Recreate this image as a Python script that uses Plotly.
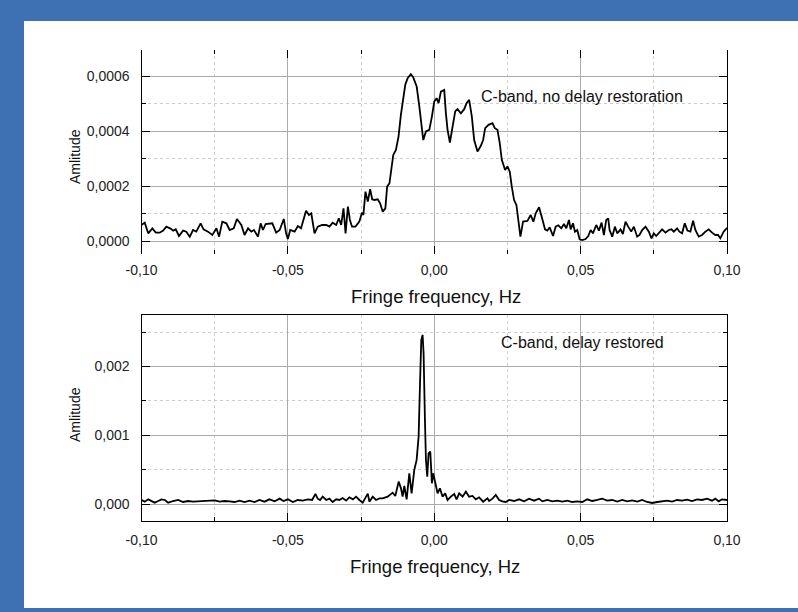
import plotly.graph_objects as go

# ---------------- data ----------------
# Top panel: C-band, no delay restoration
freq_top = [
    -0.1000, -0.0989, -0.0977, -0.0963, -0.0951, -0.0938, -0.0926, -0.0915, -0.0901, -0.0892,
    -0.0883, -0.0872, -0.0858, -0.0847, -0.0835, -0.0824, -0.0813, -0.0798, -0.0788, -0.0773,
    -0.0758, -0.0744, -0.0735, -0.0724, -0.0710, -0.0699, -0.0685, -0.0674, -0.0659, -0.0648,
    -0.0636, -0.0625, -0.0616, -0.0602, -0.0593, -0.0585, -0.0576, -0.0565, -0.0553, -0.0540,
    -0.0528, -0.0514, -0.0506, -0.0500, -0.0492, -0.0477, -0.0466, -0.0455, -0.0447, -0.0438,
    -0.0428, -0.0420, -0.0409, -0.0398, -0.0383, -0.0369, -0.0358, -0.0347, -0.0335, -0.0326,
    -0.0318, -0.0310, -0.0303, -0.0295, -0.0288, -0.0281, -0.0269, -0.0256, -0.0247, -0.0242,
    -0.0235, -0.0227, -0.0219, -0.0212, -0.0205, -0.0193, -0.0185, -0.0176, -0.0167, -0.0161,
    -0.0153, -0.0148, -0.0140, -0.0131, -0.0122, -0.0114, -0.0106, -0.0099, -0.0091, -0.0080,
    -0.0072, -0.0060, -0.0051, -0.00455, -0.00375, -0.00284, -0.00170, -0.00080, 0.00000, 0.00080,
    0.00148, 0.00227, 0.00341, 0.00398, 0.00455, 0.00534, 0.00625, 0.00716, 0.00795, 0.00909,
    0.01023, 0.01102, 0.01193, 0.01284, 0.01364, 0.01477, 0.01591, 0.01670, 0.01739, 0.01852,
    0.01989, 0.02068, 0.02159, 0.02239, 0.02307, 0.02420, 0.02500, 0.02580, 0.02648, 0.02727,
    0.02807, 0.02875, 0.02943, 0.03034, 0.03182, 0.03295, 0.03386, 0.03466, 0.03580, 0.03670,
    0.03784, 0.03864, 0.03943, 0.04057, 0.04148, 0.04239, 0.04341, 0.04432, 0.04511, 0.04602,
    0.04659, 0.04739, 0.04807, 0.04886, 0.04966, 0.05057, 0.05170, 0.05261, 0.05341, 0.05420,
    0.05534, 0.05625, 0.05716, 0.05795, 0.05875, 0.05943, 0.05989, 0.06080, 0.06170, 0.06250,
    0.06364, 0.06443, 0.06534, 0.06625, 0.06727, 0.06818, 0.06932, 0.07011, 0.07102, 0.07216,
    0.07330, 0.07420, 0.07500, 0.07580, 0.07670, 0.07784, 0.07898, 0.08011, 0.08102, 0.08182,
    0.08295, 0.08375, 0.08466, 0.08557, 0.08648, 0.08750, 0.08841, 0.08920, 0.09034, 0.09148,
    0.09261, 0.09375, 0.09489, 0.09602, 0.09693, 0.09773, 0.09886, 0.10000,
]
amp_top = [
    0.0000594, 0.0000679, 0.0000291, 0.0000473, 0.0000315, 0.0000315, 0.0000388, 0.0000533, 0.0000461, 0.0000388,
    0.0000436, 0.0000194, 0.0000388, 0.0000352, 0.0000170, 0.0000412, 0.0000352, 0.0000655, 0.0000436, 0.0000352,
    0.0000230, 0.0000473, 0.0000170, 0.0000715, 0.0000655, 0.0000412, 0.0000473, 0.0000812, 0.0000594, 0.0000230,
    0.0000473, 0.0000352, 0.0000412, 0.0000170, 0.0000655, 0.0000412, 0.0000630, 0.0000630, 0.0000655, 0.0000315,
    0.0000412, 0.0000812, 0.0000291, 0.0000085, 0.0000412, 0.0000352, 0.0000558, 0.0000473, 0.0000776, 0.0001115,
    0.0000958, 0.0001018, 0.0000291, 0.0000533, 0.0000594, 0.0000594, 0.0000533, 0.0000679, 0.0000594, 0.0000836,
    0.0000594, 0.0001200, 0.0000291, 0.0001261, 0.0000776, 0.0000533, 0.0000533, 0.0000715, 0.0001042, 0.0000958,
    0.0001806, 0.0001442, 0.0001891, 0.0001527, 0.0001503, 0.0001527, 0.0001382, 0.0001079, 0.0001200, 0.0001988,
    0.0002109, 0.0002473, 0.0003139, 0.0003321, 0.0003806, 0.0004594, 0.0005139, 0.0005685, 0.0005927, 0.0006073,
    0.0005964, 0.0005624, 0.0004900, 0.0004290, 0.0003680, 0.0003990, 0.0004050, 0.0004530, 0.0005080, 0.0005200,
    0.0005020, 0.0005440, 0.0005500, 0.0004650, 0.0004050, 0.0003590, 0.0004170, 0.0004720, 0.0004800, 0.0004650,
    0.0004800, 0.0005020, 0.0005140, 0.0004530, 0.0003680, 0.0003260, 0.0003470, 0.0003680, 0.0004110, 0.0004230,
    0.0004290, 0.0004110, 0.0004050, 0.0003560, 0.0002960, 0.0002590, 0.0002720, 0.0002530, 0.0001990, 0.0001500,
    0.0001320, 0.0000776, 0.0000170, 0.0000715, 0.0000739, 0.0000958, 0.0000715, 0.0001018, 0.0001236, 0.0000897,
    0.0000436, 0.0000388, 0.0000509, 0.0000194, 0.0000533, 0.0000582, 0.0000473, 0.0000630, 0.0000473, 0.0000776,
    0.0000436, 0.0000655, 0.0000352, 0.0000412, 0.0000073, 0.0000048, 0.0000085, 0.0000194, 0.0000412, 0.0000291,
    0.0000594, 0.0000388, 0.0000679, 0.0000230, 0.0000776, 0.0000836, 0.0000412, 0.0000170, 0.0000533, 0.0000291,
    0.0000436, 0.0000267, 0.0000715, 0.0000533, 0.0000352, 0.0000533, 0.0000170, 0.0000230, 0.0000412, 0.0000533,
    0.0000352, 0.0000109, 0.0000291, 0.0000194, 0.0000315, 0.0000436, 0.0000315, 0.0000412, 0.0000436, 0.0000352,
    0.0000473, 0.0000352, 0.0000291, 0.0000655, 0.0000388, 0.0000352, 0.0000752, 0.0000412, 0.0000170, 0.0000230,
    0.0000352, 0.0000436, 0.0000315, 0.0000230, 0.0000230, 0.0000109, 0.0000352, 0.0000485,
]

# Bottom panel: C-band, delay restored
freq_bot = [
    -0.1000, -0.0989, -0.0977, -0.0966, -0.0955, -0.0943, -0.0932, -0.0920, -0.0909, -0.0892,
    -0.0875, -0.0858, -0.0841, -0.0824, -0.0807, -0.0790, -0.0767, -0.0750, -0.0733, -0.0716,
    -0.0699, -0.0682, -0.0665, -0.0648, -0.0631, -0.0614, -0.0597, -0.0580, -0.0563, -0.0545,
    -0.0528, -0.0515, -0.0500, -0.0483, -0.0466, -0.0449, -0.0432, -0.0417, -0.0406, -0.0398,
    -0.0390, -0.0381, -0.0369, -0.0358, -0.0347, -0.0335, -0.0324, -0.0313, -0.0301, -0.0290,
    -0.0278, -0.0267, -0.02557, -0.02443, -0.02330, -0.02270, -0.02216, -0.02102, -0.01989, -0.01875,
    -0.01761, -0.01591, -0.01420, -0.01330, -0.01216, -0.01136, -0.01080, -0.01023, -0.00943, -0.00852,
    -0.00773, -0.00682, -0.00602, -0.00534, -0.00489, -0.00443, -0.00398, -0.00364, -0.00318, -0.00284,
    -0.00239, -0.00193, -0.00136, -0.00080, -0.00034, 0.00034, 0.00114, 0.00193, 0.00284, 0.00375,
    0.00455, 0.00568, 0.00682, 0.00761, 0.00852, 0.00966, 0.01080, 0.01193, 0.01307, 0.01420,
    0.01534, 0.01670, 0.01818, 0.01875, 0.01989, 0.02102, 0.02216, 0.02330, 0.02443, 0.02557,
    0.02727, 0.02898, 0.03068, 0.03239, 0.03409, 0.03580, 0.03693, 0.03864, 0.04034, 0.04205,
    0.04375, 0.04545, 0.04716, 0.04886, 0.05057, 0.05227, 0.05398, 0.05568, 0.05739, 0.05909,
    0.06080, 0.06250, 0.06420, 0.06591, 0.06761, 0.06932, 0.07102, 0.07273, 0.07443, 0.07614,
    0.07784, 0.07955, 0.08125, 0.08295, 0.08466, 0.08636, 0.08807, 0.08977, 0.09148, 0.09318,
    0.09489, 0.09602, 0.09716, 0.09830, 0.10000,
]
amp_bot = [
    0.0000583, 0.0000340, 0.0000680, 0.0000485, 0.0000194, 0.0000437, 0.0000680, 0.0000583, 0.0000194, 0.0000437,
    0.0000583, 0.0000291, 0.0000437, 0.0000340, 0.0000388, 0.0000340, 0.0000437, 0.0000534, 0.0000340, 0.0000437,
    0.0000388, 0.0000291, 0.0000485, 0.0000291, 0.0000485, 0.0000291, 0.0000583, 0.0000340, 0.0000680, 0.0000388,
    0.0000777, 0.0000437, 0.0000680, 0.0000291, 0.0000583, 0.0000485, 0.0000680, 0.0000583, 0.0001460, 0.0000777,
    0.0000583, 0.0001070, 0.0000583, 0.0000777, 0.0000291, 0.0000680, 0.0000583, 0.0000874, 0.0000485, 0.0000971,
    0.0000680, 0.0001070, 0.0000583, 0.0000194, 0.0001068, 0.0001500, 0.0000340, 0.0001068, 0.0000583, 0.0000825,
    0.0000825, 0.0001068, 0.0001650, 0.0001165, 0.0003250, 0.0002280, 0.0001068, 0.0002620, 0.0000680, 0.0004470,
    0.0001550, 0.0004950, 0.0006410, 0.0009810, 0.0017090, 0.0023880, 0.0024610, 0.0021940, 0.0012230, 0.0006410,
    0.0003980, 0.0007380, 0.0007620, 0.0003010, 0.0004470, 0.0003010, 0.0001550, 0.0002280, 0.0001070, 0.0001550,
    0.0000583, 0.0001070, 0.0001460, 0.0000680, 0.0001550, 0.0001070, 0.0001800, 0.0001070, 0.0001170, 0.0000680,
    0.0000970, 0.0000340, 0.0000825, 0.0000437, 0.0000777, 0.0001310, 0.0000583, 0.0000388, 0.0000291, 0.0000583,
    0.0000437, 0.0000680, 0.0000388, 0.0000777, 0.0000485, 0.0000777, 0.0000388, 0.0000583, 0.0000388, 0.0000485,
    0.0000340, 0.0000485, 0.0000291, 0.0000388, 0.0000291, 0.0000680, 0.0000437, 0.0000583, 0.0000777, 0.0000485,
    0.0000583, 0.0000340, 0.0000583, 0.0000388, 0.0000534, 0.0000340, 0.0000583, 0.0000291, 0.0000146, 0.0000291,
    0.0000340, 0.0000485, 0.0000340, 0.0000583, 0.0000485, 0.0000631, 0.0000437, 0.0000680, 0.0000583, 0.0000777,
    0.0000485, 0.0000777, 0.0000388, 0.0000680, 0.0000583,
]

x_tick_vals = [-0.10, -0.05, 0.00, 0.05, 0.10]
x_tick_text = ["-0,10", "-0,05", "0,00", "0,05", "0,10"]
y_top_tick_vals = [0.0, 0.0002, 0.0004, 0.0006]
y_top_tick_text = ["0,0000", "0,0002", "0,0004", "0,0006"]
y_bot_tick_vals = [0.0, 0.001, 0.002]
y_bot_tick_text = ["0,000", "0,001", "0,002"]

x_title = "Fringe frequency, Hz"
y_title = "Amlitude"
label_top = "C-band, no delay restoration"
label_bot = "C-band, delay restored"

# ---------------- figure ----------------
W, H = 798, 612
FONT = "Liberation Sans, Arial, sans-serif"
BLUE = "#3e70b4"
GRID = "#ababab"
MINOR_GRID = "#cdcdcd"

fig = go.Figure()
fig.add_trace(go.Scatter(x=freq_top, y=amp_top, mode="lines",
                         line=dict(color="black", width=1.8), xaxis="x", yaxis="y",
                         showlegend=False, hoverinfo="skip"))
fig.add_trace(go.Scatter(x=freq_bot, y=amp_bot, mode="lines",
                         line=dict(color="black", width=1.8), xaxis="x2", yaxis="y2",
                         showlegend=False, hoverinfo="skip"))

def px_x(p):
    return p / W

def px_y(p):
    return 1 - p / H

xdom = [px_x(141.5), px_x(727)]
top_dom = [px_y(254), px_y(50)]
bot_dom = [px_y(520.7), px_y(315)]

common_x = dict(
    domain=xdom, range=[-0.1, 0.1], tickmode="array",
    tickvals=x_tick_vals, ticktext=x_tick_text,
    ticks="inside", ticklen=8, tickcolor="black", tickwidth=1,
    showgrid=True, gridcolor=GRID, gridwidth=1, zeroline=False,
    tickfont=dict(family=FONT, size=14, color="#222"),
    ticklabelstandoff=6, automargin=False,
    minor=dict(tick0=0, dtick=0.025, ticks="inside", ticklen=4, tickcolor="black",
               showgrid=True, gridcolor=MINOR_GRID, griddash="dot", gridwidth=1),
    fixedrange=True,
)

fig.update_layout(
    width=W, height=H,
    margin=dict(l=0, r=0, t=0, b=0, pad=0),
    paper_bgcolor=BLUE, plot_bgcolor="white",
    xaxis=dict(common_x, anchor="y", showline=False, mirror="ticks"),
    xaxis2=dict(common_x, anchor="y2", showline=True, linecolor="black", linewidth=1.2, mirror=True),
    yaxis=dict(
        domain=top_dom, range=[-0.000046, 0.000695], anchor="x",
        tickmode="array", tickvals=y_top_tick_vals, ticktext=y_top_tick_text,
        ticks="inside", ticklen=8, tickcolor="black",
        showline=True, linecolor="black", linewidth=1.2, mirror="ticks",
        showgrid=True, gridcolor=GRID, zeroline=False, automargin=False,
        tickfont=dict(family=FONT, size=14, color="#222"), ticklabelstandoff=8,
        minor=dict(tick0=0, dtick=0.0001, ticks="inside", ticklen=4, tickcolor="black",
                   showgrid=True, gridcolor=MINOR_GRID, griddash="dot"),
        fixedrange=True,
    ),
    yaxis2=dict(
        domain=bot_dom, range=[-0.000243, 0.00275], anchor="x2",
        tickmode="array", tickvals=y_bot_tick_vals, ticktext=y_bot_tick_text,
        ticks="inside", ticklen=8, tickcolor="black",
        showline=True, linecolor="black", linewidth=1.2, mirror="ticks",
        showgrid=True, gridcolor=GRID, zeroline=False, automargin=False,
        tickfont=dict(family=FONT, size=14, color="#222"), ticklabelstandoff=8,
        minor=dict(tick0=0, dtick=0.0005, ticks="inside", ticklen=4, tickcolor="black",
                   showgrid=True, gridcolor=MINOR_GRID, griddash="dot"),
        fixedrange=True,
    ),
    shapes=[dict(type="rect", xref="paper", yref="paper", layer="below",
                 x0=px_x(24), x1=1.0, y0=px_y(608), y1=px_y(21),
                 fillcolor="white", line=dict(width=0))],
)

def ann(text, x, y, size, xanchor="center", angle=0):
    fig.add_annotation(text=text, xref="paper", yref="paper", x=px_x(x), y=px_y(y),
                       xanchor=xanchor, yanchor="middle", showarrow=False, textangle=angle,
                       font=dict(family=FONT, size=size, color="#111"))

ann(x_title, 436, 296, 18.5)
ann(x_title, 435, 566, 18.5)
ann(y_title, 75, 157, 14, angle=-90)
ann(y_title, 75, 415, 14, angle=-90)
ann(label_top, 479, 96, 16, xanchor="left")
ann(label_bot, 499, 342, 16, xanchor="left")

fig.write_html("out.html")
